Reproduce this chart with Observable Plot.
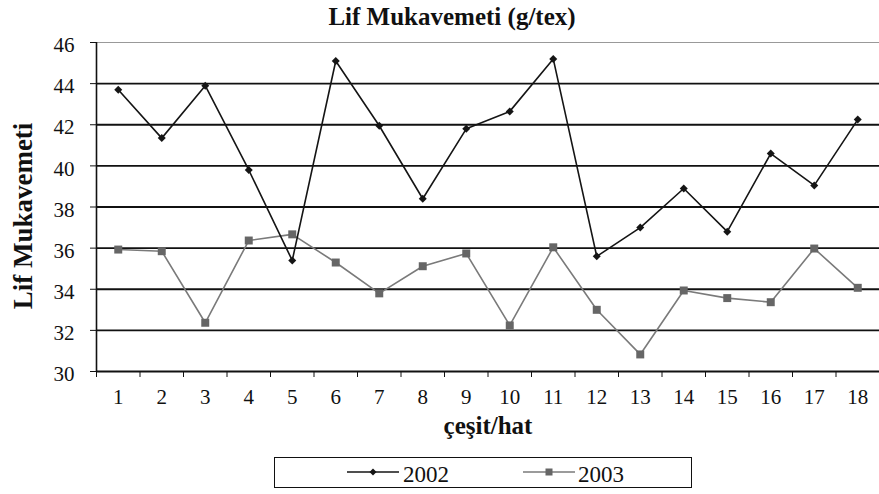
<!DOCTYPE html>
<html>
<head>
<meta charset="utf-8">
<script src="https://cdn.jsdelivr.net/npm/d3@7"></script>
<script src="https://cdn.jsdelivr.net/npm/@observablehq/plot@0.6"></script>
<style>
  body { margin: 0; background: #fff; font-family: "Liberation Serif", "Times New Roman", serif; }
  #wrap { position: relative; width: 879px; height: 494px; overflow: hidden; }
  #title { position: absolute; left: 152px; width: 600px; top: 4px; line-height: 25px; text-align: center; font-weight: bold; font-size: 25px; color: #111; }
  #chart { position: absolute; left: 0; top: 0; }
  #legend { position: absolute; left: 274px; top: 457px; width: 416px; height: 29px; border: 1.5px solid #111; }
  .lsym { position: absolute; top: 7px; }
  .ltxt { position: absolute; top: 4px; font-size: 23px; color: #111; line-height: 26px; }
</style>
</head>
<body>
<div id="wrap">
  <div id="title">Lif Mukavemeti (g/tex)</div>
  <div id="chart"></div>
  <div id="legend"></div>
</div>
<script>
const categories = [1, 2, 3, 4, 5, 6, 7, 8, 9, 10, 11, 12, 13, 14, 15, 16, 17, 18];
const series2002 = [43.7, 41.35, 43.9, 39.8, 35.4, 45.1, 41.95, 38.4, 41.8, 42.65, 45.2, 35.6, 37.0, 38.9, 36.8, 40.6, 39.05, 42.25];
const series2003 = [35.93, 35.85, 32.37, 36.37, 36.67, 35.3, 33.8, 35.12, 35.74, 32.24, 36.04, 33.0, 30.83, 33.94, 33.57, 33.37, 35.98, 34.07];
const yTicks = [30, 32, 34, 36, 38, 40, 42, 44, 46];
const seriesNames = ["2002", "2003"];

const d2002 = categories.map((c, i) => ({x: c, y: series2002[i]}));
const d2003 = categories.map((c, i) => ({x: c, y: series2003[i]}));
const bounds = categories.map(c => c - 0.5).concat([categories[categories.length - 1] + 0.5]);
const c2002 = "#151515", c2003 = "#7a7a7a", m2003 = "#666";

const chart = Plot.plot({
  width: 879,
  height: 430,
  marginTop: 42,
  marginLeft: 96,
  marginRight: 0,
  marginBottom: 59,
  style: {fontFamily: "Liberation Serif, Times New Roman, serif", color: "#111", background: "transparent", overflow: "visible"},
  x: {domain: [bounds[0], bounds[bounds.length - 1]], axis: null},
  y: {domain: [yTicks[0], yTicks[yTicks.length - 1]], axis: null},
  marks: [
    Plot.ruleY(yTicks.slice(1, -1), {stroke: "#111", strokeWidth: 1.8}),
    Plot.ruleY(yTicks.slice(-1), {stroke: "#999", strokeWidth: 1.2}),
    Plot.ruleY(yTicks.slice(0, 1), {stroke: "#111", strokeWidth: 1.8}),
    Plot.ruleX(bounds.slice(0, 1), {stroke: "#111", strokeWidth: 1.6}),
    Plot.axisY(yTicks, {tickSize: 6, tickFormat: () => "", label: null, stroke: "#111"}),
    Plot.axisY(yTicks, {tickSize: 0, tickPadding: 22, dy: 3, fontSize: 21, label: null}),
    Plot.axisX(bounds, {tickSize: 6, tickFormat: () => "", label: null, stroke: "#111"}),
    Plot.axisX(categories, {tickSize: 0, tickPadding: 18, fontSize: 21, label: null}),
    Plot.text(["çeşit/hat"], {frameAnchor: "bottom", lineAnchor: "middle", dy: 54, fontSize: 25, fontWeight: "bold", fill: "#111"}),
    Plot.text(["Lif Mukavemeti"], {frameAnchor: "left", textAnchor: "middle", lineAnchor: "middle", dx: -73, dy: 9, rotate: -90, fontSize: 27, fontWeight: "bold", fill: "#111"}),
    Plot.line(d2003, {x: "x", y: "y", stroke: c2003, strokeWidth: 1.6}),
    Plot.dot(d2003, {x: "x", y: "y", symbol: "square", r: 4.5, fill: m2003, stroke: "none"}),
    Plot.line(d2002, {x: "x", y: "y", stroke: c2002, strokeWidth: 1.6}),
    Plot.dot(d2002, {x: "x", y: "y", symbol: "diamond2", r: 3.6, fill: c2002, stroke: "none"})
  ]
});
document.getElementById("chart").appendChild(chart);

// legend
const legend = document.getElementById("legend");
const items = [
  {name: seriesNames[0], color: c2002, mark: "diamond", mcolor: c2002, left: 72, tleft: 128},
  {name: seriesNames[1], color: c2003, mark: "square", mcolor: m2003, left: 248, tleft: 303}
];
for (const it of items) {
  const shape = it.mark === "diamond"
    ? `<path d="M26,3.5 L29.5,7 L26,10.5 L22.5,7 Z" fill="${it.mcolor}"/>`
    : `<rect x="22.5" y="3.5" width="7" height="7" fill="${it.mcolor}"/>`;
  const sym = document.createElement("div");
  sym.className = "lsym";
  sym.style.left = it.left + "px";
  sym.innerHTML = `<svg width="52" height="14" style="display:block"><line x1="0" x2="52" y1="7" y2="7" stroke="${it.color}" stroke-width="1.6"/>${shape}</svg>`;
  legend.appendChild(sym);
  const txt = document.createElement("div");
  txt.className = "ltxt";
  txt.style.left = it.tleft + "px";
  txt.textContent = it.name;
  legend.appendChild(txt);
}
</script>
</body>
</html>
